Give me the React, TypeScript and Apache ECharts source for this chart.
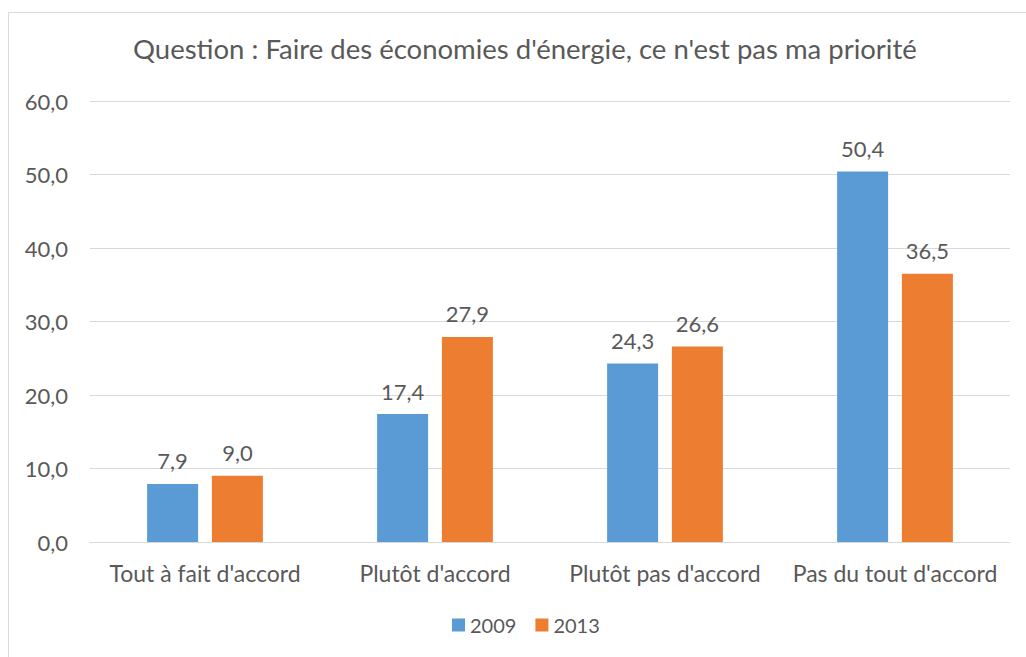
import React, { useEffect, useRef } from "react";
import * as echarts from "echarts";

const categories = ["Tout à fait d'accord", "Plutôt d'accord", "Plutôt pas d'accord", "Pas du tout d'accord"];
const values2009 = [7.9, 17.4, 24.3, 50.4];
const values2013 = [9.0, 27.9, 26.6, 36.5];
const seriesNames = ["2009", "2013"];
const titleText = "Question : Faire des économies d'énergie, ce n'est pas ma priorité";

const FONT = "Lato, 'Open Sans', sans-serif";
const TXT = "#595959";

export default function App() {
  const ref = useRef<HTMLDivElement>(null);
  useEffect(() => {
    if (!ref.current) return;
    const chart = echarts.init(ref.current, undefined, { renderer: "svg" });
    const fmt = (v: number) => v.toFixed(1).replace(".", ",");
    chart.setOption({
      animation: false,
      backgroundColor: "#ffffff",
      textStyle: { fontFamily: FONT },
      title: {
        text: titleText,
        left: 128,
        top: 29,
        textStyle: { fontFamily: FONT, fontSize: 27.5, fontWeight: "normal", color: TXT },
      },
      graphic: [
        {
          type: "rect",
          shape: { x: 8.5, y: 12.5, width: 1100, height: 700 },
          style: { fill: "none", stroke: "#d9d9d9", lineWidth: 1 },
          silent: true,
        },
      ],
      legend: {
        bottom: 17,
        left: 447,
        itemWidth: 13,
        itemHeight: 13,
        itemGap: 19,
        icon: "rect",
        textStyle: { fontFamily: FONT, fontSize: 20, color: TXT },
        data: seriesNames,
      },
      grid: { left: 90, right: 16, top: 101, bottom: 115, containLabel: false },
      xAxis: {
        type: "category",
        data: categories,
        axisLine: { lineStyle: { color: "#d9d9d9" } },
        axisTick: { show: false },
        axisLabel: { fontFamily: FONT, fontSize: 23, color: TXT, margin: 19, interval: 0 },
      },
      yAxis: {
        type: "value",
        min: 0,
        max: 60,
        interval: 10,
        axisLine: { show: false },
        axisTick: { show: false },
        splitLine: { lineStyle: { color: "#d9d9d9" } },
        axisLabel: { fontFamily: FONT, fontSize: 22, color: TXT, margin: 22, formatter: fmt },
      },
      series: [
        {
          name: seriesNames[0],
          type: "bar",
          data: values2009,
          barWidth: 51,
          barGap: "27%",
          itemStyle: { color: "#5b9bd5" },
          label: { show: true, position: "top", distance: 12, fontFamily: FONT, fontSize: 22, color: TXT, formatter: (p: any) => fmt(p.value) },
        },
        {
          name: seriesNames[1],
          type: "bar",
          data: values2013,
          barWidth: 51,
          barGap: "27%",
          itemStyle: { color: "#ed7d31" },
          label: { show: true, position: "top", distance: 12, fontFamily: FONT, fontSize: 22, color: TXT, formatter: (p: any) => fmt(p.value) },
        },
      ],
    });
    return () => chart.dispose();
  }, []);
  return <div ref={ref} style={{ position: "absolute", left: 0, top: 0, width: 1026, height: 657 }} />;
}
